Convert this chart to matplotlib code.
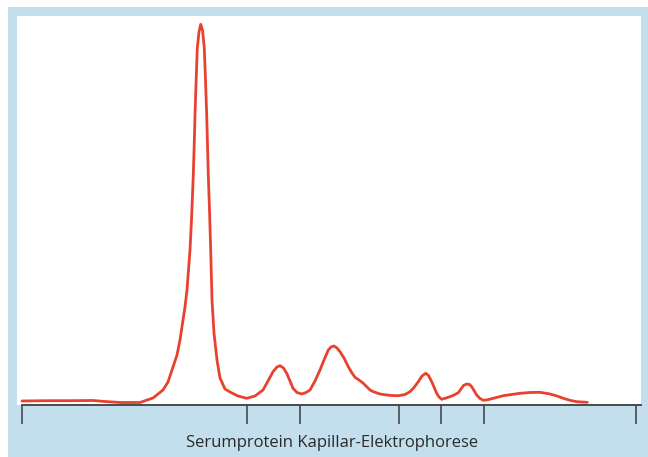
import matplotlib
matplotlib.use("Agg")
import matplotlib.pyplot as plt
from matplotlib.patches import Rectangle

# curve: position along the capillary and signal height
pos = [0, 23, 48, 71, 83, 98, 118, 131, 141, 146, 151, 155, 158, 161, 163,
       165, 168, 169.5, 171.3, 172.2, 173, 174, 175.3, 177, 178.7, 180.5,
       182.3, 183.5, 184.7, 185.5, 186.3, 187.5, 188.7, 190, 192, 195, 198,
       203, 208, 216, 224.7, 233, 241, 246, 251, 255, 258, 261.5, 264.7,
       268, 271, 275, 279.7, 284, 288, 293, 298, 302, 306.3, 309, 312, 315,
       318, 322, 326.3, 330, 333, 337, 341.3, 348, 351.3, 358, 364.7, 370,
       376.3, 383, 388, 392, 396.3, 400, 403.7, 406.5, 409.7, 412, 414.7,
       417, 419.7, 424, 428, 432, 436.3, 439, 441.5, 444.7, 447.5, 449.7,
       452, 454.7, 458, 461.3, 466, 471.3, 481.3, 498, 508, 518, 528, 535,
       541.3, 548, 554.7, 565.3]
signal = [4, 4.3, 4.3, 4.5, 3.5, 2.5, 2.5, 7, 15, 23, 38, 50, 65, 85, 98,
          115, 155, 185, 230, 260, 290, 320, 357, 373, 380.7, 375, 357, 325,
          290, 260, 230, 195, 155, 105, 72, 45, 27, 16, 13, 9, 6.7, 9, 15,
          24, 33.3, 38, 39.3, 37, 31.7, 24, 16.7, 12.5, 11, 12.5, 15, 24, 35,
          45, 55, 58, 59, 57, 53.3, 47, 38.3, 32, 27.7, 25, 21.7, 15, 13.3,
          11, 10, 9.5, 9.3, 10.5, 13.3, 17.5, 23.3, 29, 31.7, 29.5, 23.3, 18,
          11.7, 8, 5.7, 7, 8.3, 10, 12.3, 16, 19.5, 21, 20.5, 18.3, 14.5, 10,
          6.5, 4.7, 5.3, 6.7, 9.3, 11.7, 12.5, 12.7, 11, 9, 6.7, 4.7, 3.3,
          2.7]
assert len(pos) == len(signal)

# peak boundaries marked on the axis
fraction_limits = [0, 225, 278, 377, 419, 462, 614]

axis_label = "Serumprotein Kapillar-Elektrophorese"

frame_blue = "#c3dfee"
curve_red = "#e8412f"

fig = plt.figure(figsize=(6.48, 4.57), dpi=100)
W, H = 648, 457

# light blue frame behind the plot area
fig.add_artist(Rectangle((8 / W, 0), 1 - 8 / W, (H - 7) / H,
                         transform=fig.transFigure, facecolor=frame_blue,
                         edgecolor="none", zorder=0))

ax = fig.add_axes([17 / W, (H - 405) / H, (641 - 17) / W, (405 - 16) / H])
ax.set_facecolor("white")
ax.set_xlim(-5, 619)
ax.set_ylim(0, 389)

ax.plot(pos, signal, color=curve_red, lw=2.0, solid_joinstyle="round",
        solid_capstyle="round", clip_on=False)

for s in ax.spines.values():
    s.set_visible(False)
ax.plot([0, 619], [0, 0], color="#4a4a4a", lw=1.4, clip_on=False)

ax.set_yticks([])
ax.set_xticks(fraction_limits)
ax.set_xticklabels([])
ax.tick_params(axis="x", direction="out", length=13.5, width=1.1,
               color="#3a3a3a")

fig.text(332 / W, (H - 443) / H, axis_label, ha="center", va="center",
         fontsize=12, family="Open Sans", color="#2a2a2a")

fig.savefig("out.png", dpi=100)
